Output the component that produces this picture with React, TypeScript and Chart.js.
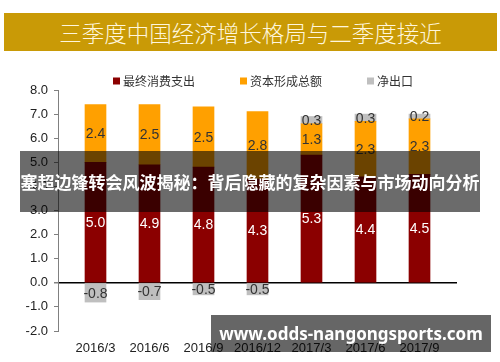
import React, { useEffect, useRef } from "react";
import { Chart, registerables } from "chart.js";

Chart.register(...registerables);

const categories = ["2016/3", "2016/6", "2016/9", "2016/12", "2017/3", "2017/6", "2017/9"];
const consumption = [5.0, 4.9, 4.8, 4.3, 5.3, 4.4, 4.5];
const capital = [2.4, 2.5, 2.5, 2.8, 1.3, 2.3, 2.3];
const netExports = [-0.8, -0.7, -0.5, -0.5, 0.3, 0.3, 0.2];
const seriesNames = ["最终消费支出", "资本形成总额", "净出口"];
const titleText = "三季度中国经济增长格局与二季度接近";
const bannerText = "塞超边锋转会风波揭秘：背后隐藏的复杂因素与市场动向分析";
const watermarkText = "www.odds-nangongsports.com";

const COLORS = ["#8B0000", "#FFA000", "#BFBFBF"];
const LABEL_COLORS = ["#ffffff", "#333333", "#333333"];

const segLabels = {
  id: "segLabels",
  afterDatasetsDraw(chart: any) {
    const ctx = chart.ctx;
    chart.data.datasets.forEach((ds: any, di: number) => {
      const meta = chart.getDatasetMeta(di);
      meta.data.forEach((el: any, i: number) => {
        const v = ds.data[i].y;
        const p = el.getProps(["x", "y", "base"], true);
        ctx.save();
        ctx.font = '14px "Liberation Sans", Arial, sans-serif';
        ctx.fillStyle = LABEL_COLORS[di];
        ctx.textAlign = "center";
        ctx.textBaseline = "middle";
        ctx.fillText(v.toFixed(1), p.x, (p.y + p.base) / 2 + 1);
        ctx.restore();
      });
    });
  },
};

const customLegend = {
  id: "customLegend",
  afterDraw(chart: any) {
    const ctx = chart.ctx;
    ctx.save();
    ctx.font = '12px "Noto Sans CJK SC", sans-serif';
    ctx.textBaseline = "middle";
    ctx.textAlign = "left";
    let x = 113;
    const y = 81;
    chart.data.datasets.forEach((ds: any) => {
      ctx.fillStyle = ds.backgroundColor;
      ctx.fillRect(x, y - 3.5, 7, 7);
      ctx.fillStyle = "#333333";
      const w = ctx.measureText(ds.label).width;
      ctx.fillText(ds.label, x + 10, y);
      x += 10 + w + 45;
    });
    ctx.restore();
  },
};

export default function App() {
  const ref = useRef<HTMLCanvasElement>(null);
  useEffect(() => {
    if (!ref.current) return;
    const toXY = (arr: number[]) => arr.map((v, i) => ({ x: i, y: v }));
    const chart = new Chart(ref.current, {
      type: "bar",
      data: {
        datasets: [
          { label: seriesNames[0], data: toXY(consumption), backgroundColor: COLORS[0] },
          { label: seriesNames[1], data: toXY(capital), backgroundColor: COLORS[1] },
          { label: seriesNames[2], data: toXY(netExports), backgroundColor: COLORS[2] },
        ] as any,
      },
      options: {
        animation: false,
        responsive: false,
        events: [],
        layout: { padding: { left: 0, right: 43, top: 90, bottom: 0 } },
        datasets: { bar: { barThickness: 21 } } as any,
        plugins: { legend: { display: false }, tooltip: { enabled: false } },
        scales: {
          x: {
            type: "linear",
            stacked: true,
            min: -1 / 6,
            max: categories.length - 1 + 1 / 6,
            grid: { display: false, drawTicks: false },
            border: { display: false },
            afterBuildTicks: (axis: any) => {
              axis.ticks = categories.map((_, i) => ({ value: i }));
            },
            afterFit: (axis: any) => {
              axis.height = 31;
            },
            ticks: {
              padding: 10,
              autoSkip: false,
              maxRotation: 0,
              color: "#222222",
              font: { family: '"Liberation Sans", Arial, sans-serif', size: 13 },
              callback: (v: any) => categories[Math.round(Number(v))] ?? "",
            },
          },
          y: {
            stacked: true,
            min: -2,
            max: 8,
            afterFit: (axis: any) => {
              axis.width = 58;
            },
            ticks: {
              stepSize: 1,
              padding: 6,
              color: "#222222",
              font: { family: '"Liberation Sans", Arial, sans-serif', size: 13 },
              callback: (v: any) => Number(v).toFixed(1),
            },
            grid: {
              drawOnChartArea: true,
              drawTicks: true,
              tickLength: 4,
              tickColor: "#808080",
              color: (c: any) => (c.tick && c.tick.value === 0 ? "#000000" : "rgba(0,0,0,0)"),
              lineWidth: (c: any) => (c.tick && c.tick.value === 0 ? 1.5 : 1),
            },
            border: { display: true, color: "#808080", width: 1 },
          },
        },
      } as any,
      plugins: [segLabels, customLegend],
    });
    return () => chart.destroy();
  }, []);

  return (
    <div style={{ position: "fixed", left: 0, top: 0, width: 500, height: 362, background: "#ffffff", overflow: "hidden" }}>
      <div
        style={{
          position: "absolute",
          left: 4,
          top: 13,
          width: 493,
          height: 38,
          background: "#C99A06",
          color: "#FFF6DC",
          fontFamily: '"Noto Sans CJK SC", sans-serif',
          fontWeight: 300,
          fontSize: 22.5,
          lineHeight: "38px",
          textAlign: "center",
          whiteSpace: "nowrap",
        }}
      >
        {titleText}
      </div>
      <canvas ref={ref} width={500} height={362} style={{ position: "absolute", left: 0, top: 0, width: 500, height: 362 }} />
      <div
        style={{
          position: "absolute",
          left: 20,
          top: 151,
          width: 460,
          height: 61,
          background: "rgba(0,0,0,0.58)",
          color: "#ffffff",
          fontFamily: '"Noto Sans CJK SC", sans-serif',
          fontWeight: 700,
          fontSize: 17,
          lineHeight: "61px",
          textAlign: "center",
          whiteSpace: "nowrap",
        }}
      >
        {bannerText}
      </div>
      <div
        style={{
          position: "absolute",
          left: 211,
          top: 315,
          width: 280,
          height: 37,
          background: "rgba(0,0,0,0.6)",
          color: "#ffffff",
          fontFamily: '"Noto Sans", sans-serif',
          fontWeight: 700,
          fontSize: 17,
          lineHeight: "37px",
          textAlign: "center",
          whiteSpace: "nowrap",
        }}
      >
        {watermarkText}
      </div>
    </div>
  );
}
